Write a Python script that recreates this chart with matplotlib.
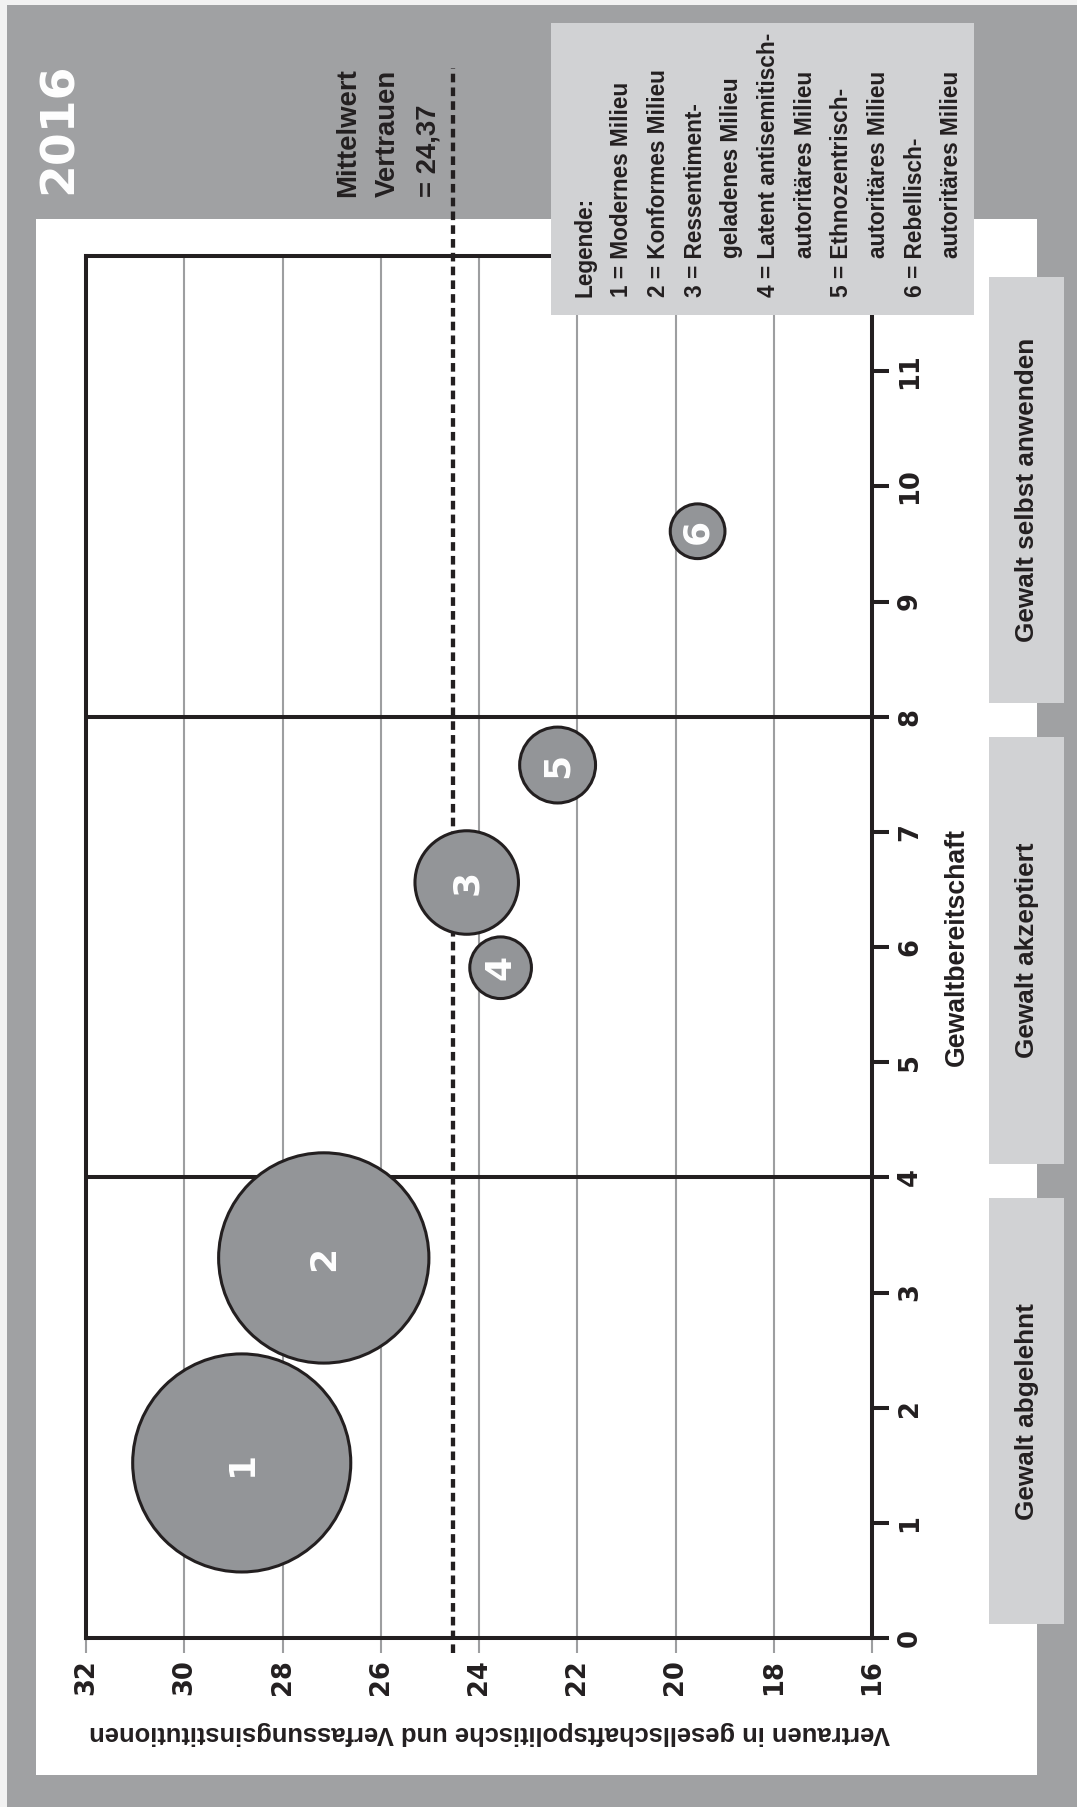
import matplotlib.pyplot as plt
from matplotlib.patches import Rectangle
from matplotlib.transforms import blended_transform_factory

# Milieus: Vertrauen (x), Gewaltbereitschaft (y), Anteil in % (Blasengroesse)
milieu_nr = ['1', '2', '3', '4', '5', '6']
vertrauen = [28.83, 27.16, 24.25, 23.56, 22.40, 19.55]
gewalt = [1.52, 3.30, 6.56, 5.82, 7.58, 9.61]
anteil = [41.3, 38.4, 9.3, 3.3, 5.0, 2.6]

mittelwert_text = '24,37'
mittelwert_linie = 24.53   # so wie im Original gezeichnet

vertrauen_ticks = [32, 30, 28, 26, 24, 22, 20, 18, 16]
gewalt_ticks = list(range(0, 12))

# Bereiche der Gewaltbereitschaft
bereich_namen = ['Gewalt abgelehnt', 'Gewalt akzeptiert', 'Gewalt selbst anwenden']
bereich_grenzen = [0, 4, 8, 12]

legende = ['Legende:',
           '1 = Modernes Milieu',
           '2 = Konformes Milieu',
           '3 = Ressentiment-',
           '  geladenes Milieu',
           '4 = Latent antisemitisch-',
           '  autoritäres Milieu',
           '5 = Ethnozentrisch-',
           '  autoritäres Milieu',
           '6 = Rebellisch-',
           '  autoritäres Milieu']

# Farben / Schriften
dunkel = '#231f20'
grau = '#a0a1a3'
hellgrau = '#d1d2d4'
blase = '#939598'
gitter = '#9d9ea0'
schmal = ['Liberation Sans', 'DejaVu Sans']

W, H = 1077, 1807
fig = plt.figure(figsize=(W / 100, H / 100), dpi=100)
fig.patch.set_facecolor('#f2f2f2')


def rechteck(x0, y0, x1, y1, farbe, z):
    # Pixel von oben links -> Figure-Koordinaten
    fig.patches.append(Rectangle((x0 / W, 1 - y1 / H), (x1 - x0) / W, (y1 - y0) / H,
                                 transform=fig.transFigure, facecolor=farbe,
                                 edgecolor='none', zorder=z))


def text_px(x, y, s, **kw):
    # gedrehter Text, Grundlinie bei x, Textanfang bei y (Pixel von oben links)
    fig.text(x / W, 1 - y / H, s, rotation=90, rotation_mode='anchor',
             ha='left', va='baseline', fontweight='bold', family=schmal,
             color=dunkel, **kw)


rechteck(7, 5, W, H, grau, -3)              # grauer Hintergrund
rechteck(36, 219, 1037, 1775, 'white', -2)  # weisses Feld
rechteck(551, 23, 974, 315, hellgrau, 5)    # Legendenkasten

fig.text(59.5 / W, 1 - 128 / H, '2016', rotation=90, ha='center', va='center',
         color='white', fontsize=34, fontweight='bold')

# Legende, Zeile fuer Zeile
for i, zeile in enumerate(legende):
    start = 258 if zeile.startswith(' ') else 297
    text_px(591.7 + 36.65 * i, start, zeile.strip(), fontsize=16.3, zorder=6)

# Mittelwert-Beschriftung
for x, zeile in zip([355, 395, 436], ['Mittelwert', 'Vertrauen', '= ' + mittelwert_text]):
    text_px(x, 197, zeile, fontsize=19.8)

ax = fig.add_axes([86 / W, 1 - 1638 / H, (872 - 86) / W, (1638 - 256) / H])
ax.set_facecolor('white')
ax.set_xlim(32, 16)
ax.set_ylim(0, 12)

# Blasen
groessen = [a * 597 for a in anteil]
ax.scatter(vertrauen, gewalt, s=groessen, color=blase, edgecolor=dunkel, linewidth=2.2, zorder=4)
for nr, x, y in zip(milieu_nr, vertrauen, gewalt):
    ax.text(x, y, nr, rotation=90, ha='center', va='center', color='white',
            fontsize=26, fontweight='bold', zorder=5)

# Mittelwert-Linie
ax.axvline(mittelwert_linie, ymin=-0.13 / 12, ymax=13.63 / 12, color=dunkel, lw=3.1,
           linestyle=(0, (2.0, 1.2)), clip_on=False, zorder=3)

# Trennlinien bei 4 und 8
for g in bereich_grenzen[1:-1]:
    ax.axhline(g, color=dunkel, lw=2.9, zorder=2)

ax.set_xticks(vertrauen_ticks)
ax.set_yticks(gewalt_ticks)
ax.grid(axis='x', color=gitter, lw=1.5)
ax.set_axisbelow(True)
for s in ax.spines.values():
    s.set_linewidth(2.9)
    s.set_color(dunkel)

ax.yaxis.tick_right()
ax.tick_params(axis='x', length=11, width=1.5, color=gitter, pad=4, labelsize=18.5,
               labelrotation=90, labelcolor=dunkel)
ax.tick_params(axis='y', length=12, width=2.9, color=dunkel, pad=6, labelsize=18.5,
               labelrotation=90, labelcolor=dunkel)
for lbl in ax.get_xticklabels() + ax.get_yticklabels():
    lbl.set_fontweight('bold')
for lbl in ax.get_yticklabels():
    lbl.set_va('center')

ax.set_xlabel('Vertrauen in gesellschaftspolitische und Verfassungsinstitutionen',
              rotation=180, fontsize=18.4, fontweight='bold', family=schmal,
              color=dunkel, labelpad=19)
ax.xaxis.label.set_x((490 - 86) / 786)
ax.yaxis.set_label_position('right')
ax.set_ylabel('Gewaltbereitschaft', rotation=90, fontsize=19.2, fontweight='bold',
              family=schmal, color=dunkel, labelpad=15)

# Kaesten rechts
trans = blended_transform_factory(fig.transFigure, ax.transData)
for name, lo, hi in zip(bereich_namen, bereich_grenzen[:-1], bereich_grenzen[1:]):
    rect = Rectangle((989 / W, lo + 0.12), 75 / W, (hi - lo) - 0.3, transform=trans,
                     facecolor=hellgrau, edgecolor='none', clip_on=False, zorder=1)
    fig.patches.append(rect)
    fig.text(1027 / W, (lo + hi) / 2 - 0.03, name, transform=trans, rotation=90,
             ha='center', va='center', fontsize=18.8, fontweight='bold', family=schmal,
             color=dunkel, zorder=2)

fig.savefig('out.png', dpi=100, facecolor=fig.get_facecolor())
